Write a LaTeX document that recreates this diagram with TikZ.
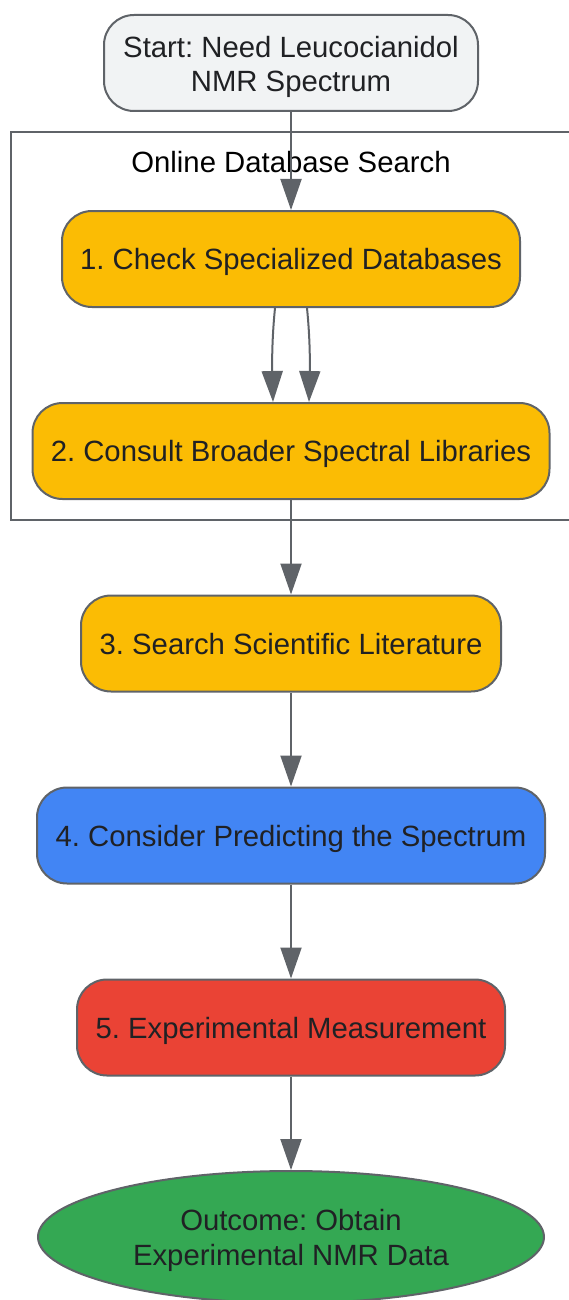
\documentclass[tikz,border=0pt]{standalone}
\usepackage{fontspec}
\setmainfont{Liberation Sans}
\usetikzlibrary{arrows.meta,shapes.geometric}
\definecolor{edgegray}{HTML}{5F6368}
\definecolor{startgray}{HTML}{F1F3F4}
\definecolor{gyellow}{HTML}{FBBC04}
\definecolor{gblue}{HTML}{4285F4}
\definecolor{gred}{HTML}{EA4335}
\definecolor{ggreen}{HTML}{34A853}
\definecolor{txt}{HTML}{202124}
\frenchspacing
\newcommand{\topstrut}{\rule{0pt}{29pt}}
\begin{document}
\begin{tikzpicture}[x=1pt,y=-1pt,
  box/.style={draw=edgegray, line width=2pt, rounded corners=30pt, inner sep=0pt,
    align=center, text=txt, font=\fontsize{29.3}{34}\selectfont, minimum height=96pt},
  oneline/.style={text height=27pt, text depth=6pt},
  outcome/.style={draw=edgegray, line width=2pt, ellipse, inner sep=0pt, fill=ggreen,
    align=center, text=txt, font=\fontsize{29.3}{35}\selectfont},
  arr/.style={draw=edgegray, line width=2pt, -{Triangle[length=31pt,width=21pt]}},
  clusterbox/.style={draw=edgegray, line width=2pt}]
\useasboundingbox (0,0) rectangle (568,1300);
\draw[clusterbox] (11,132) rectangle (575,520);
\node[font=\fontsize{29.3}{34}\selectfont, text=black] (ctitle) at (291,162) {Online Database Search};
\node[box, fill=startgray, minimum width=374pt] (start) at (291,63) {\topstrut Start: Need Leucocianidol\\NMR Spectrum};
\node[box, oneline, fill=gyellow, minimum width=458pt] (n1) at (291,259) {1. Check Specialized Databases};
\node[box, oneline, fill=gyellow, minimum width=517pt] (n2) at (291,451) {2. Consult Broader Spectral Libraries};
\node[box, oneline, fill=gyellow, minimum width=420pt] (n3) at (291,643.5) {3. Search Scientific Literature};
\node[box, oneline, fill=gblue, minimum width=508pt] (n4) at (291,835.5) {4. Consider Predicting the Spectrum};
\node[box, oneline, fill=gred, minimum width=428pt] (n5) at (291,1027.5) {5. Experimental Measurement};
\node[outcome, minimum width=506pt, minimum height=132pt] (out) at (291,1237) {\topstrut Outcome: Obtain\\Experimental NMR Data};
\draw[arr] (start.south) -- (n1.north);
\draw[arr] ([xshift=-16pt]n1.south) .. controls ([xshift=-19pt,yshift=-30pt]n1.south) and ([xshift=-19pt,yshift=40pt]n2.north) .. ([xshift=-18pt]n2.north);
\draw[arr] ([xshift=16pt]n1.south) .. controls ([xshift=19pt,yshift=-30pt]n1.south) and ([xshift=19pt,yshift=40pt]n2.north) .. ([xshift=18pt]n2.north);
\draw[arr] (n2.south) -- (n3.north);
\draw[arr] (n3.south) -- (n4.north);
\draw[arr] (n4.south) -- (n5.north);
\draw[arr] (n5.south) -- (out.north);
\end{tikzpicture}
\end{document}
